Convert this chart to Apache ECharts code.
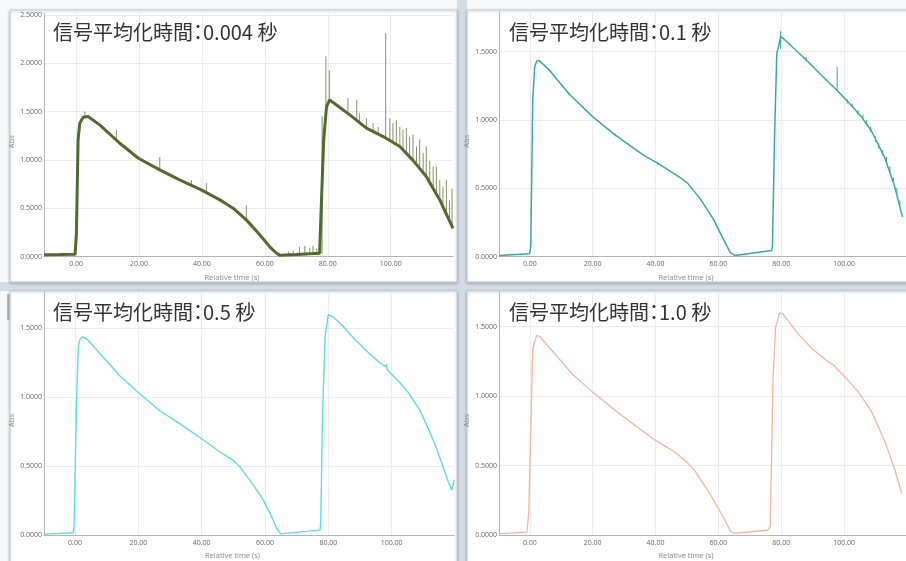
<!DOCTYPE html>
<html>
<head>
<meta charset="utf-8">
<script src="https://cdn.jsdelivr.net/npm/echarts@6/dist/echarts.min.js"></script>
<style>
  html, body { margin: 0; padding: 0; background: #f5f7f9; }
  #main { width: 906px; height: 561px; }
</style>
</head>
<body>
<div id="main"></div>
<script>
// titles of the four panels: [label, averaging time]
var titleLabel = '信号平均化時間'
var titleTimes = ['0.004 秒', '0.1 秒', '0.5 秒', '1.0 秒']

// 0.004 s : dense band + spikes [t, low, high]
var curve004 = [[-10.2, 0.017], [-5, 0.02], [-0.3, 0.024], [0.1, 0.24], [0.64, 1.21], [1.17, 1.38], [2.2, 1.44], [3.8, 1.448],
  [7.5, 1.362], [13.9, 1.172], [19.8, 1.017], [26.6, 0.897], [32.9, 0.793], [39.8, 0.69], [45.7, 0.586], [49.9, 0.5],
  [54.1, 0.379], [58.4, 0.224], [61.5, 0.103], [63.7, 0.034], [64.7, 0.014], [70, 0.02], [77.4, 0.034], [78.0, 0.586],
  [78.7, 1.207], [79.6, 1.552], [80.6, 1.621], [81.7, 1.593], [87, 1.466], [92.3, 1.328], [97.6, 1.241], [102.9, 1.138],
  [107.1, 0.995], [111.3, 0.828], [115.6, 0.586], [119.8, 0.29]]
var spikes004 = [[-7, 0.01, 0.035], [-4, 0.01, 0.03], [2.8, 1.43, 1.5], [12.8, 1.2, 1.31], [26.6, 0.9, 1.03], [36.7, 0.74, 0.79],
  [41.4, 0.67, 0.76], [54.1, 0.38, 0.53], [67.5, 0.01, 0.05], [69, 0.01, 0.06], [71, 0.01, 0.1], [72.7, 0.01, 0.11],
  [74.3, 0.02, 0.09], [75.3, 0.02, 0.11], [76.5, 0.02, 0.08], [78.2, 0.03, 1.45], [79.4, 1.5, 2.07], [80.5, 1.6, 1.93],
  [86.4, 1.48, 1.64], [89.2, 1.41, 1.62], [90.1, 1.39, 1.48], [92.3, 1.33, 1.43], [94.4, 1.29, 1.38], [96.0, 1.26, 1.34],
  [98.4, 1.22, 2.31], [99.7, 1.2, 1.43], [100.7, 1.18, 1.38], [101.8, 1.16, 1.41], [102.9, 1.14, 1.34], [103.9, 1.11, 1.31],
  [105.0, 1.07, 1.33], [106.0, 1.04, 1.24], [107.1, 1.0, 1.26], [108.2, 0.96, 1.14], [109.2, 0.92, 1.21], [110.3, 0.87, 1.07],
  [111.3, 0.83, 1.14], [112.4, 0.78, 0.99], [113.5, 0.73, 0.93], [114.5, 0.66, 0.93], [115.6, 0.59, 0.79], [116.6, 0.51, 0.72],
  [117.7, 0.45, 0.79], [118.7, 0.38, 0.58], [119.5, 0.31, 0.7]]

// 0.1 s
var curve01 = [[-9.7, 0.007], [-0.1, 0.02], [0.3, 0.073], [0.94, 1.146], [1.57, 1.39], [2.2, 1.432], [3.0, 1.434], [6.2, 1.366],
  [12.5, 1.19], [20, 1.024], [27.1, 0.89], [36.5, 0.737], [40.7, 0.683], [48.1, 0.573], [50.2, 0.537], [54.3, 0.42],
  [58.5, 0.27], [61.7, 0.122], [63.8, 0.029], [65.3, 0.007], [76.9, 0.044], [77.2, 0.073], [77.9, 0.9], [78.6, 1.49],
  [79.2, 1.54], [79.8, 1.61], [80.5, 1.6], [87.9, 1.44], [93.1, 1.32], [97.8, 1.215], [102.5, 1.102], [105.6, 1.02],
  [108.8, 0.915], [113, 0.72], [116, 0.52], [118, 0.34], [118.6, 0.29]]
var spikes01 = [[12.5, 1.18, 1.2], [27.2, 0.88, 0.9], [40.6, 0.67, 0.69], [79.8, 1.52, 1.65], [88, 1.43, 1.46], [97.8, 1.21, 1.39],
  [101, 1.12, 1.15], [102.6, 1.09, 1.12], [104.5, 1.04, 1.07], [106, 1.0, 1.04], [107.2, 0.96, 1.0], [108.5, 0.91, 0.95],
  [110, 0.84, 0.88], [111, 0.79, 0.83], [112.3, 0.74, 0.78], [113.5, 0.68, 0.73], [114.6, 0.62, 0.66], [115.7, 0.54, 0.58],
  [116.8, 0.46, 0.5], [117.8, 0.38, 0.41]]

// 0.5 s
var curve05 = [[-9.8, 0.006], [-0.5, 0.016], [-0.3, 0.073], [0.5, 0.984], [1.05, 1.368], [1.6, 1.42], [2.4, 1.434], [3.5, 1.425],
  [5.8, 1.368], [10, 1.26], [14.2, 1.152], [20, 1.032], [26.8, 0.9], [33.2, 0.805], [40, 0.697], [45.8, 0.601], [50, 0.541],
  [52.1, 0.493], [56.3, 0.361], [59.5, 0.253], [61.6, 0.157], [63.7, 0.049], [65, 0.008], [77.4, 0.037], [77.6, 0.085],
  [78.2, 0.889], [79, 1.44], [80, 1.596], [81.6, 1.579], [84.7, 1.512], [87.9, 1.428], [92.1, 1.332], [96.3, 1.248],
  [97.9, 1.22], [98.4, 1.237], [98.6, 1.2], [99.5, 1.176], [101.6, 1.128], [105.3, 1.032], [109, 0.9], [112.1, 0.745],
  [114.2, 0.625], [116.3, 0.493], [117.9, 0.385], [119, 0.325], [119.7, 0.397]]

// 1.0 s
var curve10 = [[-9.7, 0.01], [-0.9, 0.021], [-0.3, 0.17], [0.9, 1.314], [1.15, 1.36], [2.2, 1.438], [3.2, 1.429], [6.2, 1.35],
  [13.5, 1.16], [20, 1.029], [27.1, 0.898], [33.4, 0.79], [39.9, 0.683], [46, 0.6], [49.6, 0.533], [52.3, 0.469],
  [57.5, 0.29], [61.7, 0.124], [63.8, 0.029], [64.8, 0.012], [75.8, 0.036], [76.5, 0.064], [77.4, 1.124], [78.2, 1.493],
  [79.5, 1.6], [80.5, 1.593], [82.6, 1.529], [85.8, 1.438], [90, 1.338], [95.2, 1.243], [96.7, 1.224], [97.8, 1.195],
  [100.4, 1.136], [104.6, 1.029], [108.8, 0.886], [113, 0.671], [116, 0.481], [118, 0.326], [118.4, 0.3]]

var grids = [
  { left: 44, top: 13, width: 409, height: 243.5 },
  { left: 499, top: 12, width: 412, height: 244.5 },
  { left: 44, top: 292, width: 410, height: 245 },
  { left: 499, top: 292, width: 412, height: 245 }
]
var xRange = [[-10.2, 119.8], [-9.8, 119.7], [-9.8, 119.7], [-9.8, 119.7]]
var yRange = [[0, 2.52, 5], [0, 1.79, 4], [0, 1.76, 4], [0, 1.75, 4]]
var titlePos = [[53, 22], [509, 22], [53, 302], [509, 302]]

var chart = echarts.init(document.getElementById('main'), null, { renderer: 'canvas' })

function spikeSeries(idx, data, color) {
  return {
    type: 'custom',
    xAxisIndex: idx,
    yAxisIndex: idx,
    clip: true,
    data: data,
    encode: { x: 0, y: [1, 2] },
    renderItem: function (params, api) {
      var a = api.coord([api.value(0), api.value(1)])
      var b = api.coord([api.value(0), api.value(2)])
      return {
        type: 'line',
        shape: { x1: a[0], y1: a[1], x2: b[0], y2: b[1] },
        style: { stroke: color, lineWidth: 1 }
      }
    }
  }
}

function lineSeries(idx, data, color, width) {
  return {
    type: 'line',
    xAxisIndex: idx,
    yAxisIndex: idx,
    data: data,
    showSymbol: false,
    clip: true,
    lineStyle: { color: color, width: width },
    z: 3
  }
}

var cards = [[10, 10, 447, 272], [467, 10, 460, 272], [10, 291, 447, 290], [467, 291, 460, 290]]
var graphic = [
  { type: 'rect', shape: { x: 457, y: 0, width: 10, height: 561 }, style: { fill: '#d3dde7' }, z: -10 },
  { type: 'rect', shape: { x: 0, y: 282, width: 906, height: 9 }, style: { fill: '#d3dde7' }, z: -10 },
  { type: 'rect', shape: { x: 7, y: 294, width: 3, height: 26 }, style: { fill: '#b8bec4' }, z: -9 }
]
cards.forEach(function (c) {
  graphic.push({
    type: 'rect',
    shape: { x: c[0], y: c[1], width: c[2], height: c[3] },
    style: { fill: '#fff', stroke: '#c9ced3', lineWidth: 1, shadowBlur: 3, shadowOffsetY: 1, shadowColor: 'rgba(0,0,0,0.25)' },
    z: -5
  })
})

var titleFont = { fontFamily: 'Noto Sans CJK JP', fontSize: 20, fontWeight: 'normal', color: '#333' }

var option = {
  backgroundColor: '#f7f8fa',
  animation: false,
  graphic: graphic,
  title: titleTimes.map(function (t, i) {
    return {
      text: '{a|' + titleLabel + '}{c|：}{a|' + t + '}',
      left: titlePos[i][0], top: titlePos[i][1], padding: 0,
      textStyle: Object.assign({
        rich: {
          a: Object.assign({}, titleFont),
          c: Object.assign({ width: 10, align: 'center' }, titleFont)
        }
      }, titleFont)
    }
  }),
  grid: grids,
  xAxis: grids.map(function (g, i) {
    return {
      type: 'value', gridIndex: i, min: xRange[i][0], max: xRange[i][1], splitNumber: 6,
      name: 'Relative time (s)', nameLocation: 'middle', nameGap: 17,
      nameTextStyle: { fontSize: 7.5, color: '#888', fontFamily: 'Open Sans', padding: [0, 33, 0, 0] },
      axisLine: { onZero: false, lineStyle: { color: '#b3b3b3', width: 1 } },
      axisTick: { show: false },
      axisLabel: {
        fontSize: 7, color: '#666', margin: 4, fontFamily: 'Open Sans', showMinLabel: false, showMaxLabel: false,
        formatter: function (v) { return Math.abs(v % 20) < 1e-6 ? v.toFixed(2) : '' }
      },
      splitLine: { show: true, showMinLine: false, showMaxLine: false, lineStyle: { color: '#ececec' } }
    }
  }),
  yAxis: grids.map(function (g, i) {
    return {
      type: 'value', gridIndex: i, min: yRange[i][0], max: yRange[i][1], splitNumber: yRange[i][2],
      name: 'Abs', nameLocation: 'middle', nameGap: 22,
      nameTextStyle: { fontSize: 7.5, color: '#888', fontFamily: 'Open Sans', padding: [0, 14, 0, 0] },
      axisLine: { show: true, onZero: false, lineStyle: { color: '#b3b3b3', width: 1 } },
      axisTick: { show: false },
      axisLabel: {
        fontSize: 7, color: '#666', margin: 2, fontFamily: 'Open Sans',
        formatter: function (v) { return Math.abs(v * 2 - Math.round(v * 2)) < 1e-6 ? v.toFixed(4) : '' }
      },
      splitLine: { show: true, showMinLine: false, showMaxLine: false, lineStyle: { color: '#ececec' } }
    }
  }),
  series: [
    spikeSeries(0, spikes004, 'rgba(110,128,72,0.85)'),
    lineSeries(0, curve004, '#506b2a', 3),
    lineSeries(1, curve01, '#37a8a8', 1.5),
    spikeSeries(1, spikes01, '#37a8a8'),
    lineSeries(2, curve05, '#5adde4', 1.4),
    lineSeries(3, curve10, '#f3b49d', 1.3)
  ]
}
chart.setOption(option)
</script>
</body>
</html>
